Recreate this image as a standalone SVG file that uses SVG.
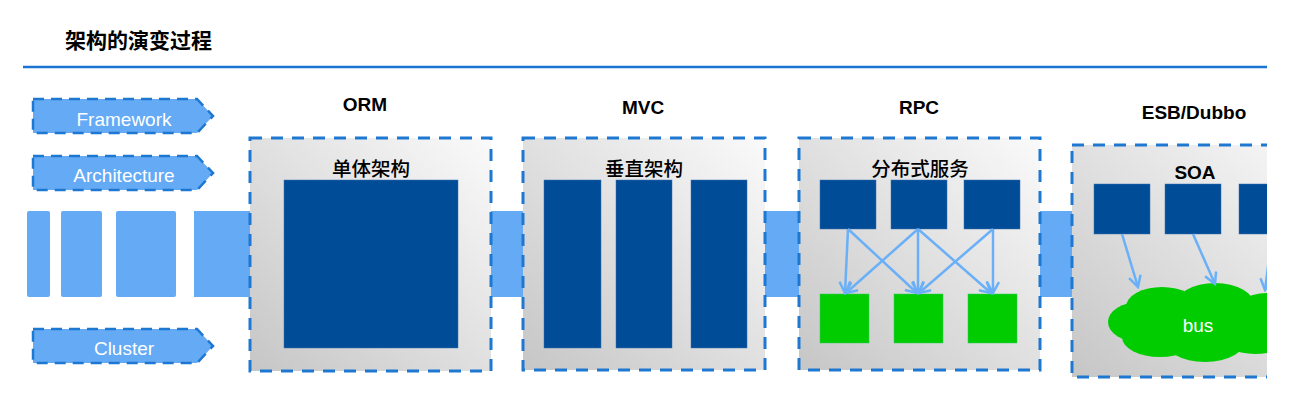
<svg xmlns="http://www.w3.org/2000/svg" width="1295" height="418" viewBox="0 0 1295 418">
  <style>
    .lat { font-family: "Liberation Sans", Arial, sans-serif; }
    .cjk { font-family: "Liberation Sans", "Noto Sans CJK SC", sans-serif; }
    .tag { fill: #64AAF5; stroke: #1E78D2; stroke-width: 2.5; stroke-dasharray: 11 7; }
    .tagtxt { fill: #ffffff; font-size: 19px; text-anchor: middle; }
    .blk { fill: #64AAF5; }
    .box { fill: url(#g); stroke: #1E78D2; stroke-width: 3; stroke-dasharray: 12 9; }
    .dark { fill: #004C97; stroke: #3A70B0; stroke-width: 0.5; }
    .grn { fill: #00CC00; stroke: #33CC66; stroke-width: 0.5; }
    .head { font-size: 19px; font-weight: bold; text-anchor: middle; fill: #000; }
    .sub { font-size: 19.5px; font-weight: 500; text-anchor: middle; fill: #000; }
    .arr { stroke: #6AB0F8; stroke-width: 2.5; fill: none; marker-end: url(#ah); }
  </style>
  <defs>
    <linearGradient id="g" x1="1" y1="0" x2="0" y2="1">
      <stop offset="0" stop-color="#FAFAFA"/>
      <stop offset="1" stop-color="#C6C6C6"/>
    </linearGradient>
    <marker id="ah" viewBox="0 0 14 14" refX="12" refY="7" markerWidth="14" markerHeight="14" markerUnits="userSpaceOnUse" orient="auto">
      <path d="M1,1 L12,7 L1,13" fill="none" stroke="#6AB0F8" stroke-width="2.5"/>
    </marker>
    <clipPath id="clip">
      <rect x="0" y="0" width="1267" height="418"/>
    </clipPath>
  </defs>

  <rect width="1295" height="418" fill="#ffffff"/>

  <g id="title">
    <text x="65" y="48" class="cjk" font-size="21" font-weight="bold" fill="#000">架构的演变过程</text>
    <line x1="23" y1="67" x2="1267" y2="67" stroke="#1A74D2" stroke-width="2.5"/>
  </g>

  <g id="tag-framework">
    <path class="tag" d="M33,99 H197 L213,116 L197,133 H33 Z"/>
    <text x="124" y="126" class="lat tagtxt">Framework</text>
  </g>
  <g id="tag-architecture">
    <path class="tag" d="M33,156 H197 L213,173 L197,190 H33 Z"/>
    <text x="124" y="182" class="lat tagtxt">Architecture</text>
  </g>
  <g id="tag-cluster">
    <path class="tag" d="M33,329 H197 L213,346 L197,363 H33 Z"/>
    <text x="124" y="355" class="lat tagtxt">Cluster</text>
  </g>

  <g id="left-blocks">
    <rect class="blk" x="27" y="211" width="23" height="86" rx="2"/>
    <rect class="blk" x="61" y="211" width="41" height="86" rx="2"/>
    <rect class="blk" x="116" y="211" width="60" height="86" rx="2"/>
    <rect class="blk" x="194" y="211" width="60" height="86"/>
  </g>

  <g id="links">
    <rect class="blk" x="488" y="211" width="38" height="86"/>
    <rect class="blk" x="762" y="211" width="40" height="86"/>
    <rect class="blk" x="1038" y="211" width="38" height="86"/>
  </g>

  <g id="node-orm">
    <text x="365" y="111" class="lat head">ORM</text>
    <rect class="box" x="250" y="138" width="241" height="233"/>
    <text x="371" y="176" class="cjk sub">单体架构</text>
    <rect class="dark" x="284" y="180" width="174" height="168"/>
  </g>

  <g id="node-mvc">
    <text x="643" y="114" class="lat head">MVC</text>
    <rect class="box" x="523" y="138" width="242" height="232"/>
    <text x="644" y="176" class="cjk sub">垂直架构</text>
    <rect class="dark" x="544" y="180" width="57" height="168"/>
    <rect class="dark" x="616" y="180" width="56" height="168"/>
    <rect class="dark" x="691" y="180" width="56" height="168"/>
  </g>

  <g id="node-rpc">
    <text x="919" y="114" class="lat head">RPC</text>
    <rect class="box" x="799" y="138" width="241" height="232"/>
    <text x="920" y="176" class="cjk sub">分布式服务</text>
    <rect class="dark" x="820" y="180" width="56" height="49"/>
    <rect class="dark" x="891" y="180" width="56" height="49"/>
    <rect class="dark" x="964" y="180" width="56" height="49"/>
    <rect class="grn" x="820" y="294" width="49" height="49"/>
    <rect class="grn" x="894" y="294" width="49" height="49"/>
    <rect class="grn" x="968" y="294" width="49" height="49"/>
  </g>

  <g id="node-soa" clip-path="url(#clip)">
    <text x="1194" y="119" class="lat head">ESB/Dubbo</text>
    <rect class="box" x="1072" y="145" width="260" height="232"/>
    <text x="1195" y="179" class="lat head">SOA</text>
    <rect class="dark" x="1094" y="184" width="56" height="50"/>
    <rect class="dark" x="1165" y="184" width="56" height="50"/>
    <rect class="dark" x="1239" y="184" width="56" height="50"/>
    <g id="bus" fill="#00CC00">
      <ellipse cx="1140" cy="322" rx="32" ry="20"/>
      <ellipse cx="1162" cy="307" rx="36" ry="20"/>
      <ellipse cx="1215" cy="306" rx="40" ry="23"/>
      <ellipse cx="1268" cy="318" rx="40" ry="25"/>
      <ellipse cx="1160" cy="337" rx="38" ry="20"/>
      <ellipse cx="1205" cy="338" rx="42" ry="24"/>
      <ellipse cx="1255" cy="335" rx="36" ry="19"/>
      <rect x="1140" y="300" width="140" height="45"/>
      <text x="1198" y="332" class="lat" font-size="19" text-anchor="middle" fill="#ffffff">bus</text>
    </g>
  </g>

  <g id="connectors">
    <line class="arr" x1="848" y1="229" x2="845" y2="293"/>
    <line class="arr" x1="848" y1="229" x2="917" y2="293"/>
    <line class="arr" x1="918" y1="229" x2="846" y2="293"/>
    <line class="arr" x1="918" y1="229" x2="918" y2="293"/>
    <line class="arr" x1="918" y1="229" x2="991" y2="293"/>
    <line class="arr" x1="993" y1="229" x2="919" y2="293"/>
    <line class="arr" x1="993" y1="229" x2="993" y2="293"/>
    <g clip-path="url(#clip)">
      <line class="arr" x1="1122" y1="234" x2="1138" y2="287"/>
      <line class="arr" x1="1193" y1="234" x2="1215" y2="284"/>
      <line class="arr" x1="1272" y1="236" x2="1265" y2="290"/>
    </g>
  </g>
</svg>
